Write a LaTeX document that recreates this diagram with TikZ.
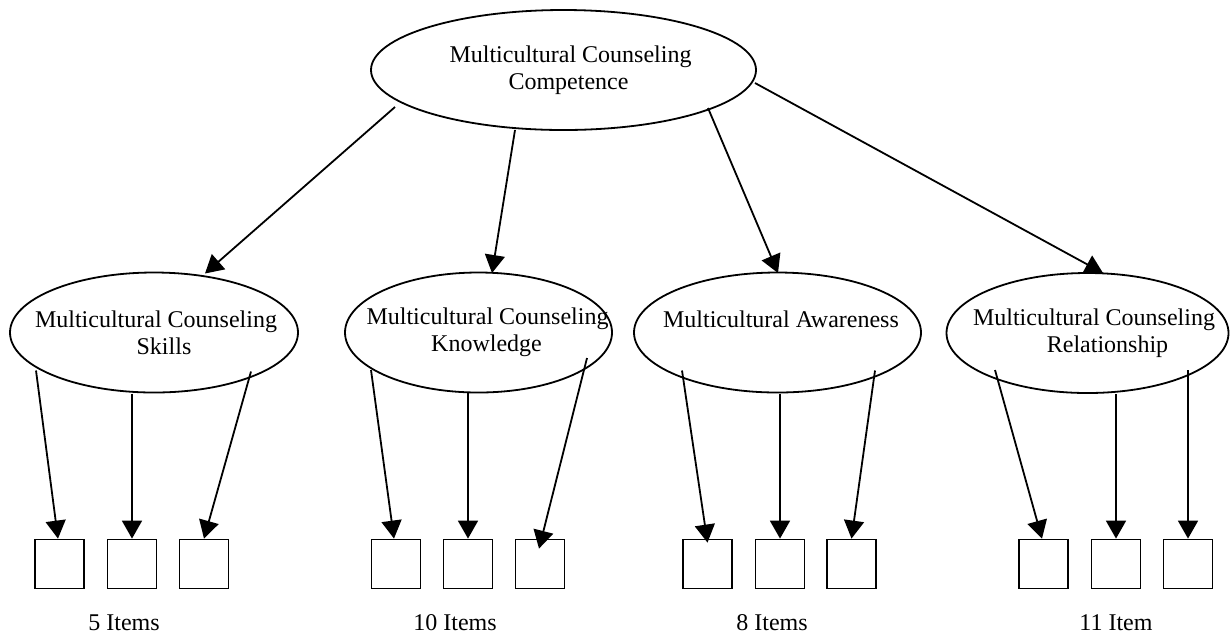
\documentclass[tikz,border=0pt]{standalone}
\usepackage{fontspec}
\setmainfont{Liberation Serif}
\usetikzlibrary{arrows.meta,shapes.geometric,calc}
\begin{document}
\begin{tikzpicture}[x=0.5pt,y=-0.5pt,
  lw/.style={line width=0.9pt},
  ell/.style={ellipse,draw,lw,inner xsep=-30pt,inner ysep=-18pt,align=center,font=\fontsize{12}{13.5}\selectfont},
  itembox/.style={draw,lw,minimum size=24.5pt,inner sep=0pt},
  arr/.style={lw,-{Triangle[length=9pt,width=10pt]}},
  lab/.style={anchor=base,font=\fontsize{12}{13.5}\selectfont,inner sep=0pt}]
\useasboundingbox (0,0) rectangle (1230,634);
% latent factors
\node[ell,minimum width=192.5pt,minimum height=60pt] (top) at (563.5,70)
  {\hspace*{7pt}Multicultural Counseling\\\hspace*{5pt}Competence};
\node[ell,minimum width=144pt,minimum height=60pt] (e1) at (154,332.5)
  {\hspace*{2pt}Multicultural Counseling\\\hspace*{10pt}Skills};
\node[ell,minimum width=133.5pt,minimum height=60pt] (e2) at (478.5,332.5)
  {\hspace*{9pt}Multicultural Counseling\\\hspace*{8pt}Knowledge};
\node[ell,minimum width=143.5pt,minimum height=60pt] (e3) at (777.5,332.5)
  {\hspace*{3.5pt}Multicultural Awareness\\\mbox{}};
\node[ell,minimum width=141pt,minimum height=60pt] (e4) at (1087.5,333)
  {\hspace*{6.5pt}Multicultural Counseling\\\hspace*{20pt}Relationship};
% item boxes
\node[itembox] (b11) at (59.5,564) {};
\node[itembox] (b12) at (132,564) {};
\node[itembox] (b13) at (204,564) {};
\node[itembox] (b21) at (396,564) {};
\node[itembox] (b22) at (468,564) {};
\node[itembox] (b23) at (540,564) {};
\node[itembox] (b31) at (707.5,564) {};
\node[itembox] (b32) at (780,564) {};
\node[itembox] (b33) at (851.5,564) {};
\node[itembox] (b41) at (1043.5,564) {};
\node[itembox] (b42) at (1116,564) {};
\node[itembox] (b43) at (1188,564) {};
% labels
\node[lab] (l1) at (124,630) {5 Items};
\node[lab] (l2) at (455,630) {10 Items};
\node[lab] (l3) at (772,630) {8 Items};
\node[lab] (l4) at (1116,630) {11 Item};
% top arrows
\draw[arr] ($(top)+(-168.5,37)$) -- ($(e1)+(51,-59)$);
\draw[arr] ($(top)+(-48.5,60)$) -- ($(e2)+(13.5,-59.5)$);
\draw[arr] ($(top)+(144.5,38)$) -- ($(e3)+(0.5,-59.5)$);
\draw[arr] ($(top)+(191.5,13)$) -- ($(e4)+(15.5,-60)$);
% item arrows
\draw[arr] ($(e1)+(-118,38)$) -- ($(b11.north)+(-1.5,0)$);
\draw[arr] ($(e1)+(-22,61)$) -- (b12.north);
\draw[arr] ($(e1)+(97,39)$) -- (b13.north);
\draw[arr] ($(e2)+(-107.5,37.5)$) -- ($(b21.north)+(-2,0)$);
\draw[arr] ($(e2)+(-10.5,60.5)$) -- (b22.north);
\draw[arr] ($(e2)+(108.5,25.5)$) -- ($(b23.north)+(-1,10)$);
\draw[arr] ($(e3)+(-95.5,38)$) -- ($(b31.north)+(0,4)$);
\draw[arr] ($(e3)+(2.5,61)$) -- (b32.north);
\draw[arr] ($(e3)+(97.5,38)$) -- (b33.north);
\draw[arr] ($(e4)+(-92.5,37)$) -- ($(b41.north)+(-1.5,0)$);
\draw[arr] ($(e4)+(28.5,61)$) -- (b42.north);
\draw[arr] ($(e4)+(100.5,37)$) -- (b43.north);
\end{tikzpicture}
\end{document}
